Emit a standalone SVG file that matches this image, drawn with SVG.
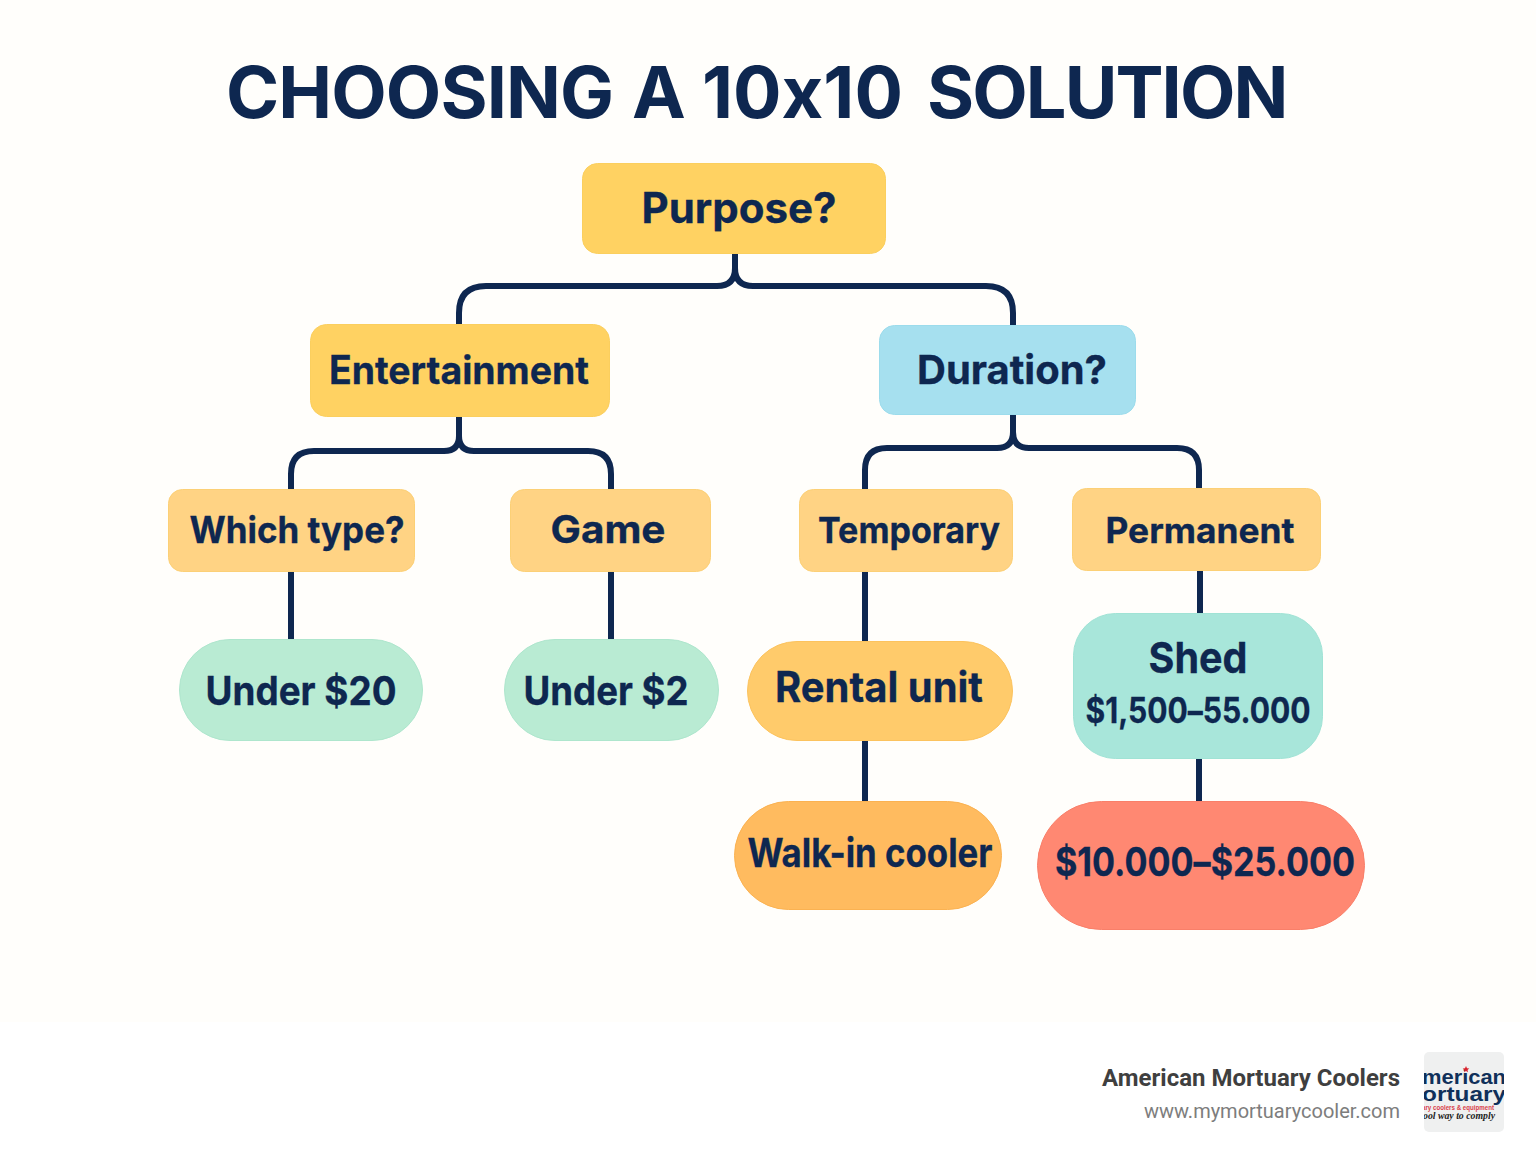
<svg xmlns="http://www.w3.org/2000/svg" width="1536" height="1154" viewBox="0 0 1536 1154">
<defs>
<clipPath id="logoClip"><rect x="1424" y="1052" width="80" height="80" rx="5"/></clipPath>
</defs>
<style>
.t{font-family:"Inter","Liberation Sans",sans-serif;font-weight:700;fill:#0e2750;text-anchor:middle;stroke:#0e2750;stroke-width:.3;font-feature-settings:"calt" 0}
.c{fill:none;stroke:#0e2750;stroke-width:6;stroke-linejoin:round}
.title{font-family:"Inter","Liberation Sans",sans-serif;font-weight:700;fill:#0e2750;font-size:72px;font-feature-settings:"calt" 0}
.f{font-family:"Roboto","Liberation Sans",sans-serif;text-anchor:end}
.m{font-family:"Liberation Sans",sans-serif;font-weight:700;fill:#10305a}
.y{fill:#ffd262;stroke:#fbcf5e}
.o{fill:#ffd384;stroke:#fcd076}
.g{fill:#b9ebd3;stroke:#aee6cd}
</style>
<rect width="1536" height="1154" fill="#ffffff"/>
<rect width="1536" height="1022" fill="#fffefb"/>
<text class="title" y="118"><tspan x="226" letter-spacing="-.9">CHOOSING </tspan><tspan x="632">A </tspan><tspan x="702">10x10 </tspan><tspan x="927" letter-spacing="-1.9">SOLUTION</tspan></text>
<g id="connectors">
<path class="c" d="M735 254V268Q735 286 717 286H486Q459 286 459 313V325"/>
<path class="c" d="M735 254V268Q735 286 753 286H986Q1013 286 1013 313V325"/>
<path class="c" d="M459 416V436Q459 451 444 451H314Q291 451 291 474V490"/>
<path class="c" d="M459 416V436Q459 451 474 451H588Q611 451 611 474V490"/>
<path class="c" d="M1013 415V432Q1013 448 1029 448H1177Q1199 448 1199 470V488"/>
<path class="c" d="M1013 415V432Q1013 448 997 448H887Q865 448 865 470V490"/>
<path class="c" d="M291 571V640"/>
<path class="c" d="M611 571V640"/>
<path class="c" d="M865 571V642"/>
<path class="c" d="M1200 570V614"/>
<path class="c" d="M865 740V802"/>
<path class="c" d="M1199 758V802"/>
</g>
<g id="n-purpose"><rect class="y" x="582.500" y="163.500" width="303" height="90" rx="15"/><text class="t" x="739" y="223" font-size="42" textLength="195" lengthAdjust="spacingAndGlyphs">Purpose?</text></g>
<g id="n-entertainment"><rect class="y" x="310.500" y="324.500" width="299" height="92" rx="16"/><text class="t" x="459" y="384" font-size="39" textLength="260" lengthAdjust="spacingAndGlyphs">Entertainment</text></g>
<g id="n-duration"><rect x="879.500" y="325.500" width="256" height="89" rx="15" fill="#a6e0ef" stroke="#9cdcec"/><text class="t" x="1012" y="384" font-size="40" textLength="190" lengthAdjust="spacingAndGlyphs">Duration?</text></g>
<g id="n-which"><rect class="o" x="168.500" y="489.500" width="246" height="82" rx="14"/><text class="t" x="297" y="543" font-size="37" textLength="215" lengthAdjust="spacingAndGlyphs">Which type?</text></g>
<g id="n-game"><rect class="o" x="510.500" y="489.500" width="200" height="82" rx="14"/><text class="t" x="608" y="543" font-size="38" textLength="115" lengthAdjust="spacingAndGlyphs">Game</text></g>
<g id="n-temporary"><rect class="o" x="799.500" y="489.500" width="213" height="82" rx="14"/><text class="t" x="909" y="543" font-size="36" textLength="182" lengthAdjust="spacingAndGlyphs">Temporary</text></g>
<g id="n-permanent"><rect class="o" x="1072.500" y="488.500" width="248" height="82" rx="14"/><text class="t" x="1200" y="543" font-size="35" textLength="189" lengthAdjust="spacingAndGlyphs">Permanent</text></g>
<g id="n-under20"><rect class="g" x="179.500" y="639.500" width="243" height="101" rx="50.500"/><text class="t" x="301" y="705" font-size="40" textLength="191" lengthAdjust="spacingAndGlyphs">Under $20</text></g>
<g id="n-under2"><rect class="g" x="504.500" y="639.500" width="214" height="101" rx="50.500"/><text class="t" x="606" y="705" font-size="40" textLength="165" lengthAdjust="spacingAndGlyphs">Under $2</text></g>
<g id="n-rental"><rect x="747.500" y="641.500" width="265" height="99" rx="49.500" fill="#ffcb6b" stroke="#fcc35e"/><text class="t" x="879" y="702" font-size="42" textLength="208" lengthAdjust="spacingAndGlyphs">Rental unit</text></g>
<g id="n-shed"><rect x="1073.500" y="613.500" width="249" height="145" rx="42" fill="#a8e6da" stroke="#a0e3d5"/><text class="t" x="1198" y="673" font-size="43" textLength="99" lengthAdjust="spacingAndGlyphs">Shed</text><text class="t" x="1198" y="723" font-size="35" textLength="225" lengthAdjust="spacingAndGlyphs">$1,500–55.000</text></g>
<g id="n-walkin"><rect x="734.500" y="801.500" width="267" height="108" rx="54" fill="#ffbb5f" stroke="#fbb251"/><text class="t" x="870" y="867" font-size="40" textLength="245" lengthAdjust="spacingAndGlyphs">Walk-in cooler</text></g>
<g id="n-price"><rect x="1037.500" y="801.500" width="327" height="128" rx="64" fill="#ff8872" stroke="#f97f69"/><text class="t" x="1205" y="876" font-size="40" textLength="300" lengthAdjust="spacingAndGlyphs">$10.000–$25.000</text></g>
<text class="f" x="1400" y="1086" font-size="23" font-weight="700" fill="#3f3f3f" textLength="298" lengthAdjust="spacingAndGlyphs">American Mortuary Coolers</text>
<text class="f" x="1400" y="1118" font-size="20.500" fill="#7d7d7d" textLength="256" lengthAdjust="spacingAndGlyphs">www.mymortuarycooler.com</text>
<rect x="1424" y="1052" width="80" height="80" rx="5" fill="#eff0f0"/>
<g clip-path="url(#logoClip)">
<text class="m" x="1464" y="1084" font-size="21" text-anchor="middle" textLength="84" lengthAdjust="spacingAndGlyphs">merican</text>
<text class="m" x="1464" y="1101" font-size="21" text-anchor="middle" textLength="84" lengthAdjust="spacingAndGlyphs">ortuary</text>
<text x="1458" y="1110" font-size="6.500" font-weight="700" fill="#d9404a" text-anchor="middle" font-family="Liberation Sans, sans-serif" textLength="72" lengthAdjust="spacingAndGlyphs">ary coolers &amp; equipment</text>
<text x="1459" y="1119" font-size="10" font-weight="700" font-style="italic" fill="#222" text-anchor="middle" font-family="Liberation Serif, serif" textLength="72" lengthAdjust="spacingAndGlyphs">ool way to comply</text>
<polygon points="1466,1066 1467,1068.300 1469.300,1068.500 1467.500,1070 1468,1072.300 1466,1071 1464,1072.300 1464.500,1070 1462.700,1068.500 1465,1068.300" fill="#d9232e"/>
</g>
</svg>
